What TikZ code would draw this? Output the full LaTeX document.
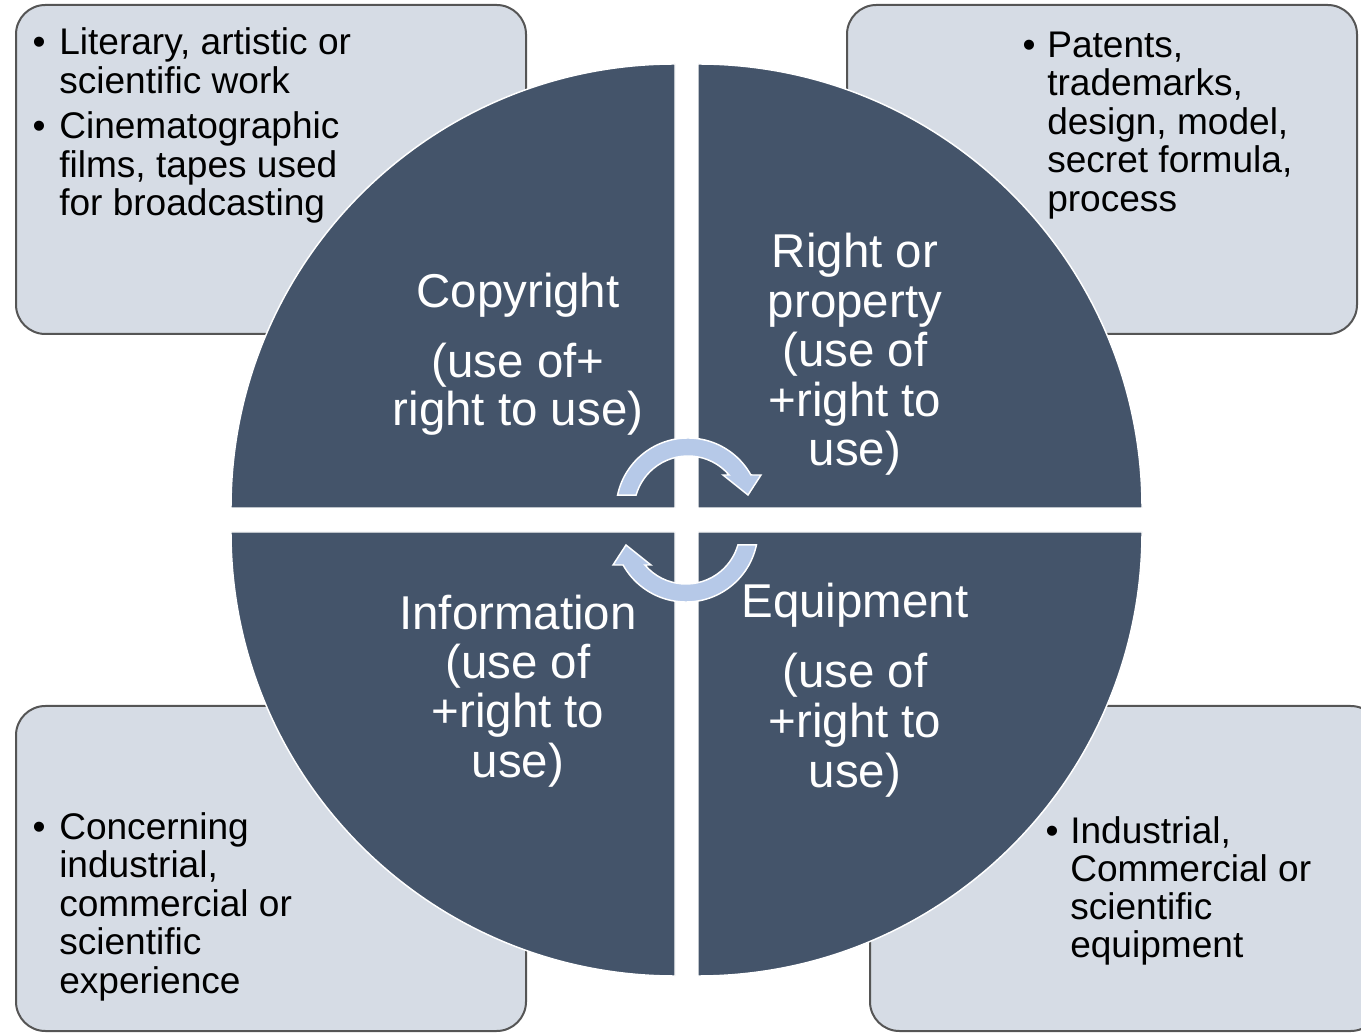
\documentclass[tikz,border=0pt]{standalone}
\usepackage{fontspec}
\setmainfont{Liberation Sans}
\definecolor{quadc}{RGB}{68,84,106}
\definecolor{boxc}{RGB}{214,220,229}
\definecolor{boxline}{RGB}{85,85,85}
\definecolor{arrc}{RGB}{182,201,232}
\begin{document}
\begin{tikzpicture}[x=0.75pt,y=0.75pt,
  box/.style={fill=boxc,draw=boxline,line width=1.5pt,rounded corners=22pt},
  quad/.style={fill=quadc,draw=white,line width=1.1pt},
  arr/.style={fill=arrc,draw=white,line width=1.1pt,line join=miter},
  small/.style={font=\fontsize{27.8}{28.9}\selectfont,inner sep=0pt,anchor=base west,text=black},
  bul/.style={font=\fontsize{27.8}{28.9}\selectfont,inner sep=0pt,anchor=base,text=black},
  big/.style={font=\fontsize{35.6}{37}\selectfont,inner sep=0pt,anchor=base,text=white}]
\useasboundingbox (0,0) rectangle (1361,1033);
\clip (0,0) rectangle (1361,1033);
% boxes
\draw[box] (16,699) rectangle (526,1028);
\draw[box] (847,699) rectangle (1357,1028);
\draw[box] (16,2) rectangle (526,327);
\draw[box] (870,2) rectangle (1380,327);
% quadrants
\filldraw[quad] (675,525) -- (231,525) arc[start angle=180,end angle=90,radius=444] -- cycle;
\filldraw[quad] (698,525) -- (698,969) arc[start angle=90,end angle=0,radius=444] -- cycle;
\filldraw[quad] (675,501) -- (675,57) arc[start angle=270,end angle=180,radius=444] -- cycle;
\filldraw[quad] (698,501) -- (1142,501) arc[start angle=0,end angle=-90,radius=444] -- cycle;
% circular arrows
\begin{scope}[shift={(687,513)},shift={(1,10)}]
\filldraw[arr] (163.9:54) -- (168:72) arc[start angle=168,end angle=29.1,radius=72]
  -- (73,35) -- (60,15) -- (35,35) -- (40.4:54) arc[start angle=40.4,end angle=163.9,radius=54] -- cycle;
\end{scope}
\begin{scope}[shift={(687,513)},rotate=180,shift={(1,10)}]
\filldraw[arr] (163.9:54) -- (168:72) arc[start angle=168,end angle=29.1,radius=72]
  -- (73,35) -- (60,15) -- (35,35) -- (40.4:54) arc[start angle=40.4,end angle=163.9,radius=54] -- cycle;
\end{scope}
% top-left box text
\node[bul] (tlb1) at (39,978) {•};
\node[small] (tl1) at (59,978) {Literary, artistic or};
\node[small] (tl2) at (59,939.5) {scientific work};
\node[bul] (tlb2) at (39,894) {•};
\node[small] (tl3) at (59,894) {Cinematographic};
\node[small] (tl4) at (59,855.5) {films, tapes used};
\node[small] (tl5) at (59,817) {for broadcasting};
% top-right box text
\node[bul] (trb1) at (1029,975.5) {•};
\node[small] (tr1) at (1047,975.5) {Patents,};
\node[small] (tr2) at (1047,937) {trademarks,};
\node[small] (tr3) at (1047,898.5) {design, model,};
\node[small] (tr4) at (1047,860) {secret formula,};
\node[small] (tr5) at (1047,821.5) {process};
% bottom-left box text
\node[bul] (blb1) at (39,194) {•};
\node[small] (bl1) at (59,194) {Concerning};
\node[small] (bl2) at (59,155.5) {industrial,};
\node[small] (bl3) at (59,117) {commercial or};
\node[small] (bl4) at (59,78.5) {scientific};
\node[small] (bl5) at (59,40) {experience};
% bottom-right box text
\node[bul] (brb1) at (1052,190) {•};
\node[small] (br1) at (1070,190) {Industrial,};
\node[small] (br2) at (1070,152) {Commercial or};
\node[small] (br3) at (1070,114) {scientific};
\node[small] (br4) at (1070,76) {equipment};
% quadrant texts
\node[big] (q11) at (518,725) {Copyright};
\node[big] (q12) at (518,655) {(use of+};
\node[big] (q13) at (518,607) {right to use)};
\node[big] (q21) at (855,765) {Right or};
\node[big] (q22) at (855,715) {property};
\node[big] (q23) at (855,666) {(use of};
\node[big] (q24) at (855,616) {+right to};
\node[big] (q25) at (855,567) {use)};
\node[big] (q31) at (518,403) {Information};
\node[big] (q32) at (518,354) {(use of};
\node[big] (q33) at (518,305) {+right to};
\node[big] (q34) at (518,255) {use)};
\node[big] (q41) at (855,415) {Equipment};
\node[big] (q42) at (855,345) {(use of};
\node[big] (q43) at (855,296) {+right to};
\node[big] (q44) at (855,246) {use)};
\end{tikzpicture}
\end{document}
